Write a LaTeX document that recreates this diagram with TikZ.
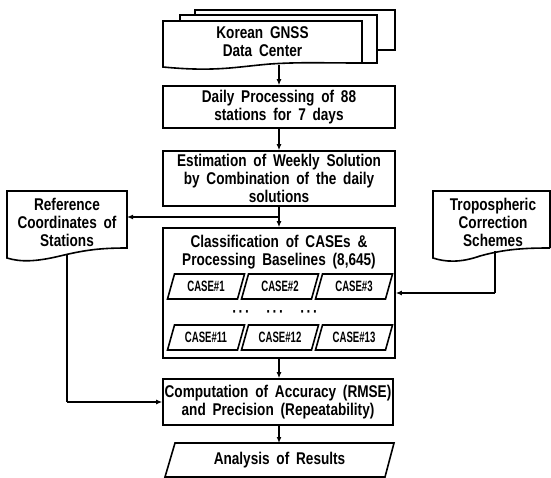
\documentclass[tikz,border=0pt]{standalone}
\usepackage{fontspec}
\setmainfont[FakeStretch=0.8,WordSpace=1.8]{Liberation Sans}
\newfontfamily\casefont[FakeStretch=0.64]{Liberation Sans}
\usetikzlibrary{arrows.meta}
\tikzset{
  line/.style={line width=1.6pt, line join=miter},
  conn/.style={line width=1.5pt, -{Latex[length=6pt,width=5pt]}},
  plain/.style={line width=1.5pt},
  box/.style={draw, line width=1.6pt, rectangle, inner sep=0pt, align=center, font=\bfseries\fontsize{17}{18}\selectfont},
  txt/.style={align=center, inner sep=0pt, font=\bfseries\fontsize{17}{18}\selectfont},
  casetxt/.style={inner sep=0pt, font=\casefont\bfseries\fontsize{15}{16}\selectfont},
}
\begin{document}
\begin{tikzpicture}[x=1pt,y=-1pt]
\useasboundingbox (0,0) rectangle (551,478);
\fill[white] (0,0) rectangle (551,478);

% stacked documents (Korean GNSS Data Center)
\draw[line] (195,15) -- (195,10) -- (395,10) -- (395,50) -- (377,50);
\draw[line] (180,21) -- (180,15) -- (377,15) -- (377,63) -- (362,63);
\draw[line, fill=white] (163,21) -- (362,21) -- (362,63)
   .. controls (320,63) and (300,62) .. (270,64)
   .. controls (235,67) and (215,72) .. (163,67) -- cycle;
\node[txt] (kgdc) at (262.5,42) {Korean GNSS\\Data Center};
\coordinate (kgdcb) at (279,65.5);

% main boxes
\node[box, minimum width=232pt, minimum height=42pt] (daily) at (279,107) {Daily Processing of 88\\stations for 7 days};
\node[box, minimum width=232pt, minimum height=55pt] (est) at (279,178.5) {Estimation of Weekly Solution\\by Combination of the daily\\solutions};
\node[box, minimum width=232pt, minimum height=130pt] (class) at (279,293) {};
\node[txt] (classt) at (279,252.5) {Classification of CASEs \&\\Processing Baselines (8,645)};
\node[box, minimum width=230pt, minimum height=46pt] (comp) at (278,402) {Computation of Accuracy (RMSE)\\and Precision (Repeatability)};

% analysis parallelogram
\draw[line] (175,443) -- (394,443) -- (385,477) -- (165,477) -- cycle;
\node[txt] (ana) at (279.5,460) {Analysis of Results};
\coordinate (anat) at (279,443);

% CASE boxes
\foreach \cx/\cy/\lab/\nm in {206/286.5/CASE\#1/c1, 280/286.5/CASE\#2/c2, 354/286.5/CASE\#3/c3,
                            206/337.5/CASE\#11/c11, 280/337.5/CASE\#12/c12, 354/337.5/CASE\#13/c13}{
  \draw[line] (\cx-31.5,\cy-12.5) -- (\cx+38.5,\cy-12.5) -- (\cx+31.5,\cy+12.5) -- (\cx-38.5,\cy+12.5) -- cycle;
  \node[casetxt] (\nm) at (\cx,\cy) {\lab};
}
\node[txt] (d1) at (241,314) {·\kern1.8pt·\kern1.8pt·};
\node[txt] (d2) at (275,314) {·\kern1.8pt·\kern1.8pt·};
\node[txt] (d3) at (309,314) {·\kern1.8pt·\kern1.8pt·};

% Reference Coordinates document
\draw[line] (7,191) -- (127,191) -- (127,248)
   .. controls (100,248) and (85,250) .. (60,256)
   .. controls (35,262) and (20,262) .. (7,258) -- cycle;
\node[txt] (ref) at (67,222) {Reference\\Coordinates of\\Stations};
\coordinate (refr) at (127,217);
\coordinate (refb) at (67,254);
\coordinate (refc) at (67,402);

% Tropospheric document
\draw[line] (550,248) -- (550,191) -- (433,191) -- (433,258)
   .. controls (445,262) and (460,263) .. (480,256)
   .. controls (505,249) and (525,248) .. (550,248);
\node[txt] (trop) at (493,222) {Tropospheric\\Correction\\Schemes};
\coordinate (tropb) at (495,251);
\coordinate (tropc) at (495,293);

% connectors
\draw[conn] (kgdcb) -- (daily.north);
\draw[conn] (daily.south) -- (est.north);
\draw[conn] (est.south) -- (class.north);
\coordinate (junc) at (279,217);
\draw[conn] (junc) -- (refr);
\draw[plain] (tropb) -- (tropc);
\draw[conn] (tropc) -- (class.east |- tropc);
\draw[plain] (refb) -- (refc);
\draw[conn] (refc) -- (comp.west |- refc);
\draw[conn] (class.south) -- (comp.north -| class.south);
\draw[conn] (comp.south -| anat) -- (anat);
\end{tikzpicture}
\end{document}
